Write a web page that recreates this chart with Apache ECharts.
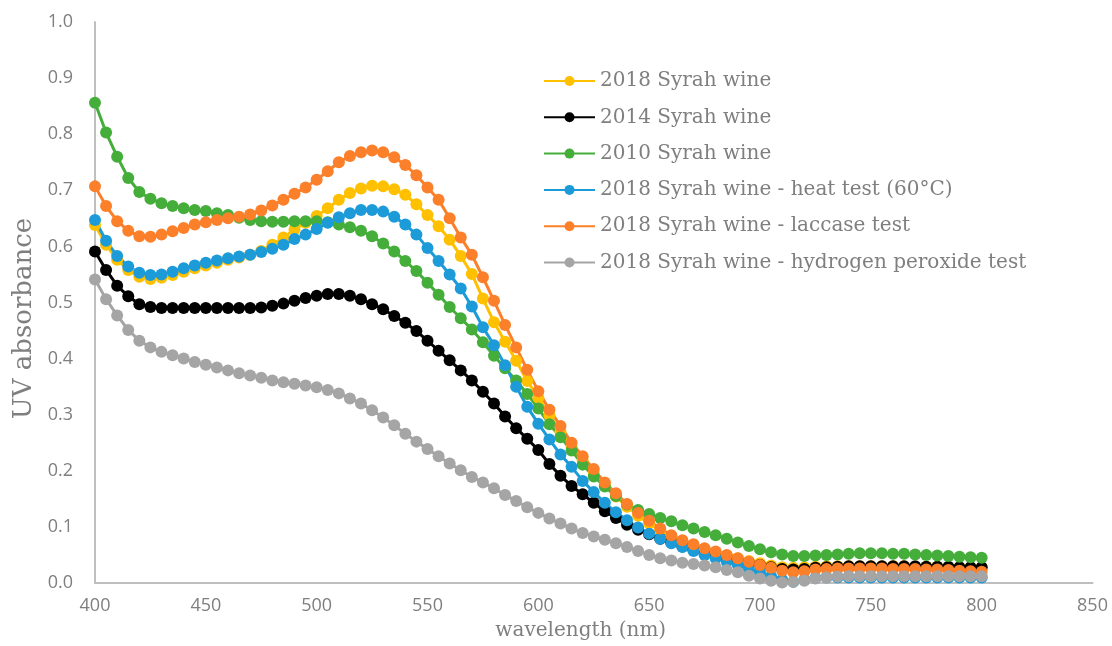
<!DOCTYPE html>
<html>
<head>
<meta charset="utf-8">
<script src="https://cdn.jsdelivr.net/npm/echarts@6/dist/echarts.min.js"></script>
<style>
html,body{margin:0;padding:0;background:#fff;}
#chart{width:1112px;height:646px;}
</style>
</head>
<body>
<div id="chart"></div>
<script>
const wavelengths = [400,405,410,415,420,425,430,435,440,445,450,455,460,465,470,475,480,485,490,495,500,505,510,515,520,525,530,535,540,545,550,555,560,565,570,575,580,585,590,595,600,605,610,615,620,625,630,635,640,645,650,655,660,665,670,675,680,685,690,695,700,705,710,715,720,725,730,735,740,745,750,755,760,765,770,775,780,785,790,795,800];

const syrah2018 = [0.638,0.603,0.576,0.558,0.546,0.542,0.544,0.549,0.555,0.561,0.566,0.571,0.576,0.580,0.585,0.592,0.603,0.616,0.630,0.642,0.654,0.668,0.683,0.695,0.703,0.708,0.707,0.702,0.692,0.675,0.656,0.636,0.612,0.583,0.551,0.507,0.465,0.430,0.396,0.360,0.330,0.299,0.270,0.243,0.219,0.196,0.174,0.154,0.136,0.120,0.106,0.094,0.083,0.074,0.067,0.060,0.054,0.049,0.044,0.039,0.035,0.031,0.028,0.027,0.028,0.029,0.030,0.030,0.030,0.030,0.030,0.030,0.030,0.030,0.029,0.029,0.029,0.028,0.028,0.027,0.027];

const syrah2014 = [0.591,0.558,0.530,0.511,0.497,0.492,0.490,0.490,0.490,0.490,0.490,0.490,0.490,0.490,0.490,0.491,0.494,0.498,0.503,0.508,0.512,0.515,0.515,0.512,0.506,0.497,0.488,0.476,0.464,0.449,0.432,0.414,0.397,0.379,0.361,0.341,0.320,0.297,0.276,0.257,0.237,0.212,0.191,0.173,0.158,0.143,0.128,0.116,0.104,0.095,0.087,0.079,0.072,0.065,0.059,0.054,0.049,0.045,0.040,0.036,0.032,0.028,0.025,0.024,0.025,0.027,0.028,0.029,0.030,0.030,0.030,0.030,0.030,0.030,0.030,0.029,0.029,0.029,0.028,0.028,0.028];

const syrah2010 = [0.856,0.803,0.760,0.722,0.697,0.685,0.677,0.672,0.668,0.665,0.663,0.659,0.656,0.651,0.647,0.645,0.644,0.644,0.645,0.645,0.645,0.643,0.639,0.634,0.628,0.618,0.605,0.591,0.574,0.556,0.535,0.514,0.492,0.472,0.452,0.429,0.405,0.383,0.361,0.337,0.311,0.283,0.260,0.236,0.211,0.190,0.172,0.155,0.140,0.130,0.123,0.116,0.110,0.103,0.097,0.091,0.085,0.079,0.072,0.066,0.060,0.055,0.051,0.048,0.048,0.049,0.050,0.051,0.052,0.053,0.053,0.053,0.052,0.052,0.051,0.050,0.049,0.048,0.047,0.046,0.045];

const heatTest = [0.647,0.610,0.583,0.564,0.553,0.549,0.550,0.555,0.561,0.566,0.571,0.575,0.579,0.582,0.585,0.590,0.596,0.603,0.613,0.621,0.631,0.642,0.652,0.659,0.665,0.665,0.662,0.653,0.639,0.621,0.597,0.574,0.550,0.525,0.493,0.456,0.424,0.388,0.350,0.314,0.284,0.256,0.229,0.207,0.182,0.162,0.143,0.126,0.112,0.099,0.088,0.079,0.071,0.064,0.057,0.050,0.044,0.038,0.032,0.025,0.019,0.012,0.006,0.002,0.006,0.009,0.010,0.010,0.010,0.010,0.010,0.010,0.010,0.010,0.010,0.010,0.010,0.010,0.010,0.010,0.010];

const laccaseTest = [0.707,0.672,0.645,0.628,0.618,0.617,0.621,0.627,0.633,0.639,0.643,0.647,0.650,0.653,0.657,0.664,0.673,0.683,0.694,0.705,0.719,0.734,0.750,0.761,0.768,0.771,0.768,0.759,0.745,0.727,0.705,0.683,0.650,0.616,0.585,0.545,0.503,0.460,0.420,0.380,0.342,0.309,0.280,0.250,0.226,0.203,0.179,0.160,0.141,0.125,0.111,0.097,0.085,0.076,0.069,0.062,0.056,0.050,0.044,0.038,0.032,0.027,0.022,0.019,0.021,0.024,0.025,0.026,0.026,0.026,0.026,0.026,0.025,0.025,0.025,0.024,0.024,0.023,0.022,0.021,0.020];

const peroxideTest = [0.541,0.506,0.477,0.451,0.432,0.420,0.412,0.406,0.400,0.394,0.389,0.384,0.379,0.374,0.370,0.366,0.361,0.358,0.355,0.352,0.349,0.344,0.338,0.329,0.320,0.308,0.295,0.281,0.266,0.252,0.239,0.226,0.213,0.201,0.189,0.179,0.169,0.157,0.146,0.135,0.125,0.115,0.106,0.097,0.089,0.083,0.077,0.071,0.064,0.057,0.050,0.044,0.040,0.036,0.034,0.031,0.028,0.023,0.019,0.013,0.008,0.004,0.001,0.002,0.004,0.008,0.010,0.011,0.012,0.012,0.012,0.012,0.012,0.012,0.012,0.012,0.012,0.012,0.012,0.012,0.012];

const seriesNames = ['2018 Syrah wine','2014 Syrah wine','2010 Syrah wine','2018 Syrah wine - heat test (60°C)','2018 Syrah wine - laccase test','2018 Syrah wine - hydrogen peroxide test'];
const seriesValues = [syrah2018, syrah2014, syrah2010, heatTest, laccaseTest, peroxideTest];
const seriesColors = ['#FFC000','#000000','#45AE3B','#1D9BD8','#FC7F2A','#A5A5A5'];

const chart = echarts.init(document.getElementById('chart'));
const labelColor = '#7f7f7f';
const serifFont = 'DejaVu Serif';

chart.setOption({
  animation: false,
  backgroundColor: '#ffffff',
  grid: {left: 95, right: 19.5, top: 22, bottom: 58.5, containLabel: false},
  legend: {
    orient: 'vertical',
    left: 543,
    top: 70,
    padding: 0,
    itemWidth: 51,
    itemHeight: 12.5,
    itemGap: 14.3,
    textStyle: {color: labelColor, fontFamily: serifFont, fontSize: 20, lineHeight: 22},
    data: seriesNames
  },
  xAxis: {
    type: 'value',
    min: 400, max: 850, interval: 50,
    name: 'wavelength (nm)',
    nameLocation: 'middle',
    nameGap: 38,
    nameTextStyle: {color: labelColor, fontFamily: serifFont, fontSize: 20, padding: [0, 26, 0, 0]},
    axisLine: {show: true, lineStyle: {color: '#bfbfbf', width: 2}},
    axisTick: {show: false},
    splitLine: {show: false},
    axisLabel: {color: labelColor, fontFamily: 'Open Sans', fontSize: 18, margin: 14}
  },
  yAxis: {
    type: 'value',
    min: 0, max: 1, interval: 0.1,
    name: 'UV absorbance',
    nameLocation: 'middle',
    nameGap: 56,
    nameTextStyle: {color: labelColor, fontFamily: serifFont, fontSize: 26, padding: [0, 32, 0, 0]},
    axisLine: {show: true, lineStyle: {color: '#bfbfbf', width: 2}},
    axisTick: {show: false},
    splitLine: {show: false},
    axisLabel: {color: labelColor, fontFamily: 'Open Sans', fontSize: 18, margin: 22,
      formatter: v => v.toFixed(1)}
  },
  series: seriesNames.map((name, i) => ({
    name: name,
    type: 'line',
    data: wavelengths.map((w, j) => [w, seriesValues[i][j]]),
    symbol: 'circle',
    symbolSize: 12,
    showSymbol: true,
    clip: false,
    lineStyle: {color: seriesColors[i], width: 3},
    itemStyle: {color: seriesColors[i]},
    emphasis: {disabled: true}
  }))
});
</script>
</body>
</html>
